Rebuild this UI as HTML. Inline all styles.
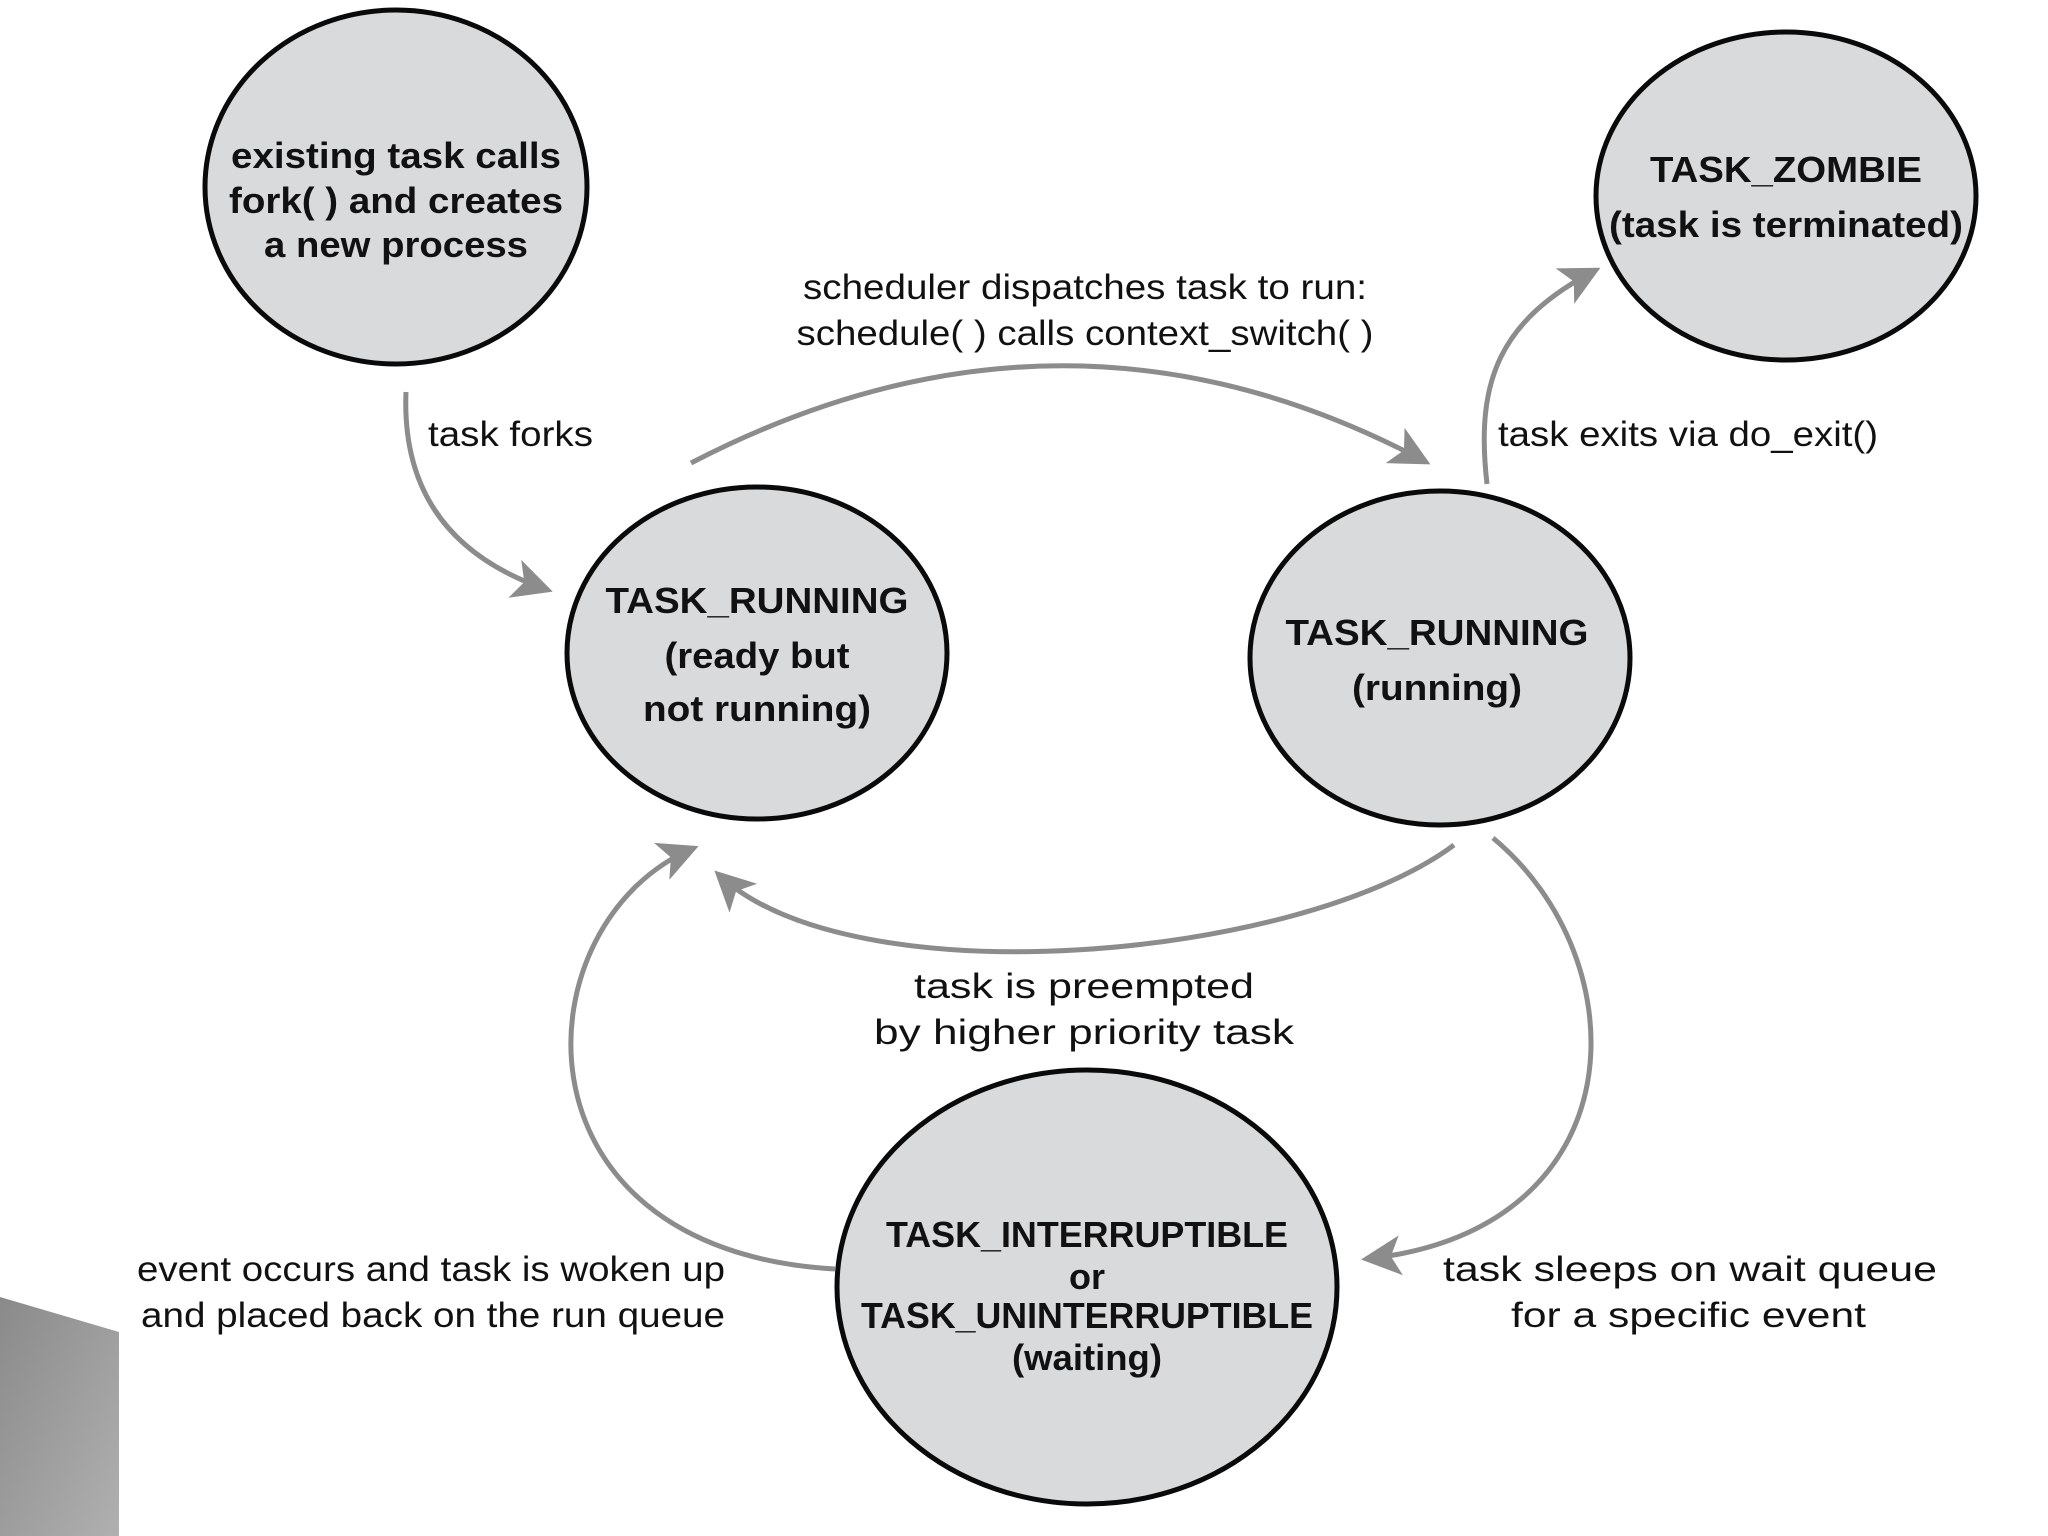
<!DOCTYPE html>
<html><head><meta charset="utf-8"><style>
html,body{margin:0;padding:0;background:#fff;}
svg{display:block;}
text{font-family:"Liberation Sans",Arial,sans-serif;fill:#111;}
.b{font-weight:bold;font-size:36px;}
.r{font-size:35px;}
</style></head><body>
<svg width="2048" height="1536" viewBox="0 0 2048 1536" xmlns="http://www.w3.org/2000/svg">
<defs>
<linearGradient id="g" x1="0" y1="0" x2="1" y2="1">
<stop offset="0" stop-color="#8a8a8a"/><stop offset="1" stop-color="#b0b0b0"/>
</linearGradient>
<marker id="a" markerWidth="10" markerHeight="10" refX="7" refY="4" orient="auto" markerUnits="strokeWidth">
<path d="M0,0 L8,4 L0,8 L2,4 Z" fill="#8c8c8c"/>
</marker>
</defs>
<polygon points="0,1297 119,1332 119,1536 0,1536" fill="url(#g)"/>

<g fill="#d9dadb" stroke="#0a0a0a" stroke-width="5">
<ellipse cx="396" cy="187" rx="191" ry="177"/>
<ellipse cx="1786" cy="196" rx="190" ry="164"/>
<ellipse cx="757" cy="653" rx="190" ry="166"/>
<ellipse cx="1440" cy="658" rx="190" ry="167"/>
<ellipse cx="1087" cy="1287" rx="250" ry="217"/>
</g>

<g fill="none" stroke="#8c8c8c" stroke-width="5" marker-end="url(#a)">
<path d="M406,392 Q400,540 548,590"/>
<path d="M691,463 Q1065,269 1426,462"/>
<path d="M1487,484 C1475,380 1500,320 1596,270"/>
<path d="M1454,845 C1300,960 850,1000 718,874"/>
<path d="M835,1269 C500,1250 520,920 694,848"/>
<path d="M1493,838 C1640,960 1640,1230 1366,1259"/>
</g>

<g class="b" text-anchor="middle">
<text x="396" y="168" textLength="330" lengthAdjust="spacingAndGlyphs">existing task calls</text>
<text x="396" y="213" textLength="334" lengthAdjust="spacingAndGlyphs">fork( ) and creates</text>
<text x="396" y="257" textLength="264" lengthAdjust="spacingAndGlyphs">a new process</text>
<text x="1786" y="182" textLength="272" lengthAdjust="spacingAndGlyphs">TASK_ZOMBIE</text>
<text x="1786" y="237" textLength="354" lengthAdjust="spacingAndGlyphs">(task is terminated)</text>
<text x="757" y="613" textLength="303" lengthAdjust="spacingAndGlyphs">TASK_RUNNING</text>
<text x="757" y="668" textLength="185" lengthAdjust="spacingAndGlyphs">(ready but</text>
<text x="757" y="721" textLength="228" lengthAdjust="spacingAndGlyphs">not running)</text>
<text x="1437" y="645" textLength="303" lengthAdjust="spacingAndGlyphs">TASK_RUNNING</text>
<text x="1437" y="700" textLength="170" lengthAdjust="spacingAndGlyphs">(running)</text>
<text x="1087" y="1247" textLength="402" lengthAdjust="spacingAndGlyphs">TASK_INTERRUPTIBLE</text>
<text x="1087" y="1289">or</text>
<text x="1087" y="1328" textLength="452" lengthAdjust="spacingAndGlyphs">TASK_UNINTERRUPTIBLE</text>
<text x="1087" y="1370" textLength="150" lengthAdjust="spacingAndGlyphs">(waiting)</text>
</g>

<g class="r">
<text x="1085" y="299" text-anchor="middle" textLength="564" lengthAdjust="spacingAndGlyphs">scheduler dispatches task to run:</text>
<text x="1085" y="345" text-anchor="middle" textLength="577" lengthAdjust="spacingAndGlyphs">schedule( ) calls context_switch( )</text>
<text x="428" y="446" textLength="165" lengthAdjust="spacingAndGlyphs">task forks</text>
<text x="1498" y="446" textLength="380" lengthAdjust="spacingAndGlyphs">task exits via do_exit()</text>
<text x="1084" y="998" text-anchor="middle" textLength="340" lengthAdjust="spacingAndGlyphs">task is preempted</text>
<text x="1084" y="1044" text-anchor="middle" textLength="420" lengthAdjust="spacingAndGlyphs">by  higher priority task</text>
<text x="137" y="1281" textLength="588" lengthAdjust="spacingAndGlyphs">event occurs and task is woken up</text>
<text x="141" y="1327" textLength="584" lengthAdjust="spacingAndGlyphs">and placed back on the run queue</text>
<text x="1443" y="1281" textLength="494" lengthAdjust="spacingAndGlyphs">task sleeps on wait queue</text>
<text x="1511" y="1327" textLength="355" lengthAdjust="spacingAndGlyphs">for a specific event</text>
</g>
</svg>
</body></html>
